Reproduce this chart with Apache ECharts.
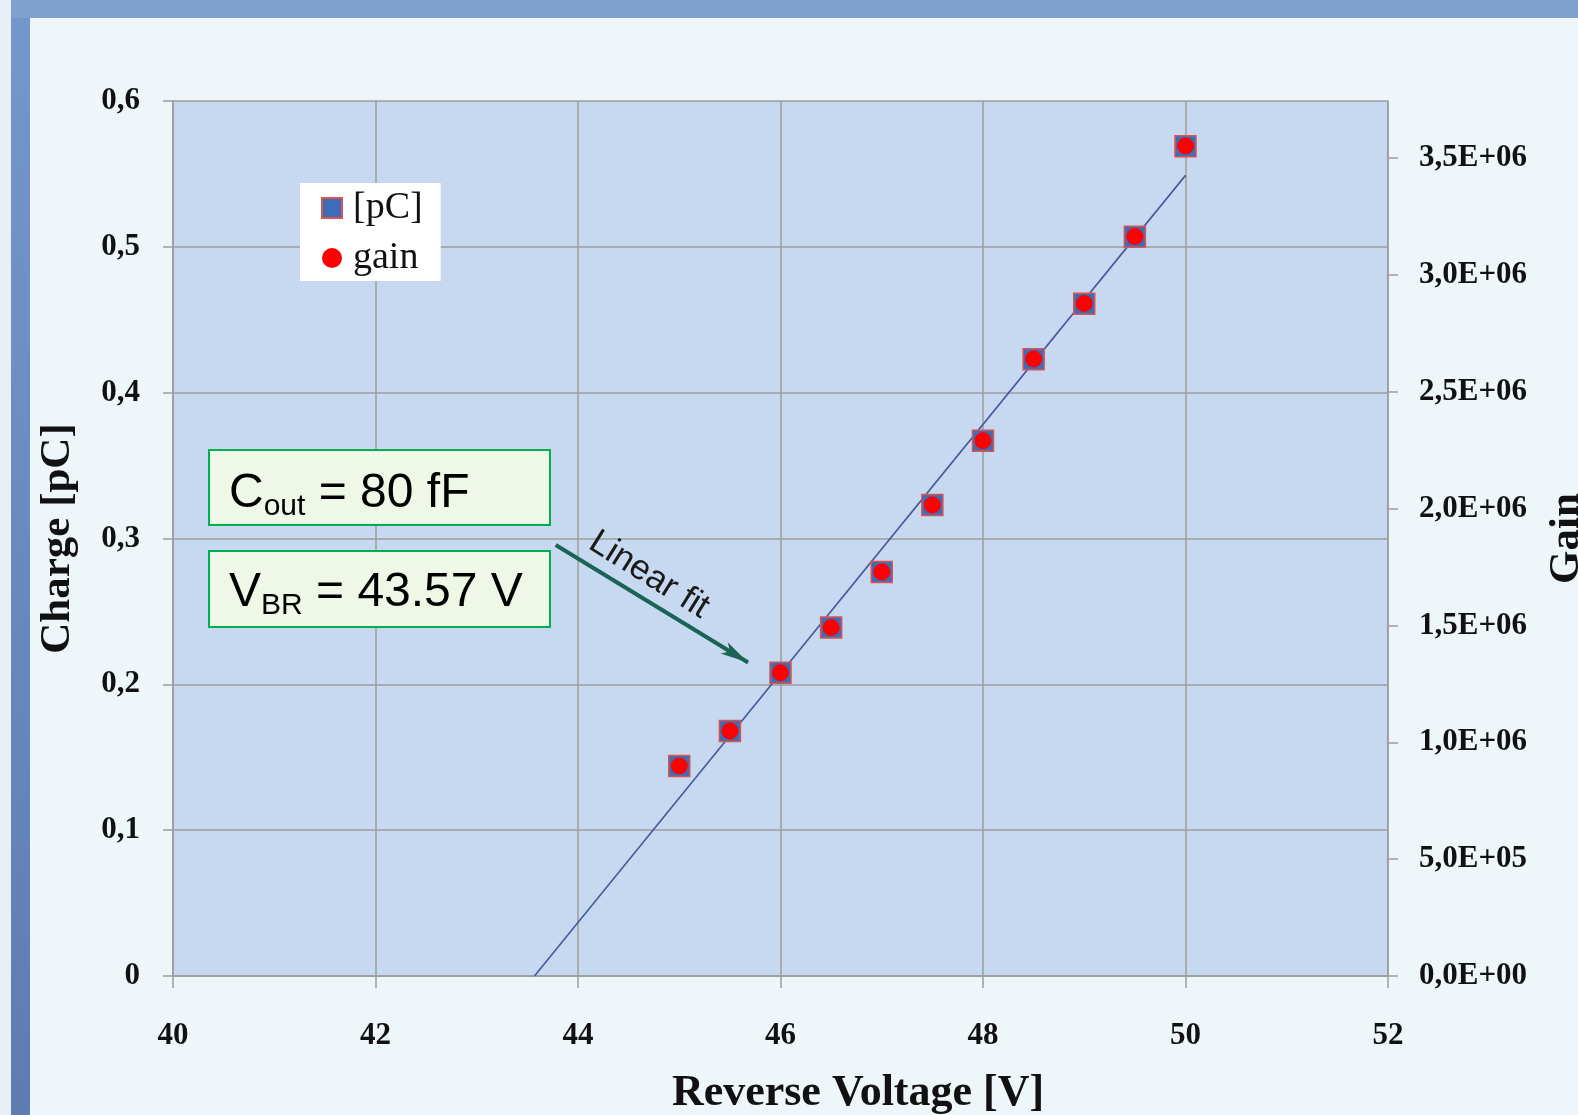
<!DOCTYPE html>
<html>
<head>
<meta charset="utf-8">
<script src="https://cdn.jsdelivr.net/npm/echarts@6/dist/echarts.min.js"></script>
<style>
  html, body { margin: 0; padding: 0; background: #EEF6F9; }
  #chart { width: 1578px; height: 1115px; }
</style>
</head>
<body>
<div id="chart"></div>
<script>
// ---- data ----
const voltage = [45, 45.5, 46, 46.5, 47, 47.5, 48, 48.5, 49, 49.5, 50];
const chargePC = [0.144, 0.168, 0.208, 0.239, 0.277, 0.323, 0.367, 0.423, 0.461, 0.507, 0.569];
const gainValues = [0.899e6, 1.049e6, 1.298e6, 1.492e6, 1.729e6, 2.016e6, 2.291e6, 2.641e6, 2.878e6, 3.165e6, 3.552e6];
const fitVoltage = [43.57, 50];
const fitCharge = [0, 0.549];
const xTicks = [40, 42, 44, 46, 48, 50, 52];
const chargeTicks = [0, 0.1, 0.2, 0.3, 0.4, 0.5, 0.6];
const gainTicks = [0, 5e5, 1e6, 1.5e6, 2e6, 2.5e6, 3e6, 3.5e6];
const gainAxisMax = 3.745e6;
const seriesNames = ['[pC]', 'gain'];
const arrowFrom = [43.78, 0.2955];
const arrowTo = [45.68, 0.2150];

const serif = "'Liberation Serif', 'DejaVu Serif', serif";
const sans = "'Liberation Sans', Arial, sans-serif";

function fmtCharge(v) {
  if (v === 0) return '0';
  return v.toFixed(1).replace('.', ',');
}
function fmtGain(v) {
  if (v === 0) return '0,0E+00';
  const e = Math.floor(Math.log10(v) + 1e-9);
  const m = v / Math.pow(10, e);
  return m.toFixed(1).replace('.', ',') + 'E+' + String(e).padStart(2, '0');
}

const chart = echarts.init(document.getElementById('chart'), null, { renderer: 'canvas' });

const gridColor = '#9C9C9C';
const tickFont = { fontFamily: serif, fontWeight: 'bold', fontSize: 31, color: '#111' };

const option = {
  animation: false,
  backgroundColor: '#EEF6F9',
  grid: {
    left: 173, top: 101, width: 1215, height: 875,
    outerBoundsMode: 'none', containLabel: false,
    show: true, backgroundColor: '#C6D9F0', borderWidth: 0
  },
  legend: {
    data: seriesNames,
    orient: 'vertical',
    left: 300, top: 183,
    padding: [5, 18, 3, 21],
    itemGap: 10,
    itemWidth: 20, itemHeight: 20,
    backgroundColor: '#FFFFFF',
    selectedMode: false,
    textStyle: { fontFamily: serif, fontSize: 38, lineHeight: 40, color: '#111', padding: [0, 0, 0, 6] }
  },
  xAxis: {
    type: 'value', min: xTicks[0], max: xTicks[xTicks.length - 1], interval: 2,
    name: 'Reverse Voltage [V]', nameLocation: 'middle', nameGap: 96,
    nameTextStyle: { fontFamily: serif, fontWeight: 'bold', fontSize: 44, color: '#111', padding: [0, 0, 0, 155] },
    axisLine: { show: true, onZero: false, lineStyle: { color: gridColor, width: 1.5 } },
    axisTick: { show: true, inside: false, length: 12, lineStyle: { color: gridColor, width: 1.5 } },
    axisLabel: Object.assign({ margin: 44 }, tickFont),
    splitLine: { show: true, lineStyle: { color: gridColor, width: 1.5 } }
  },
  yAxis: [
    {
      type: 'value', min: chargeTicks[0], max: chargeTicks[chargeTicks.length - 1], interval: 0.1,
      position: 'left',
      name: 'Charge [pC]', nameLocation: 'middle', nameGap: 94,
      nameTextStyle: { fontFamily: serif, fontWeight: 'bold', fontSize: 43, color: '#111' },
      axisLine: { show: true, lineStyle: { color: gridColor, width: 1.5 } },
      axisTick: { show: true, inside: false, length: 10, lineStyle: { color: gridColor, width: 1.5 } },
      axisLabel: Object.assign({ margin: 33, formatter: fmtCharge }, tickFont),
      splitLine: { show: true, lineStyle: { color: gridColor, width: 1.5 } }
    },
    {
      type: 'value', min: 0, max: gainAxisMax,
      position: 'right',
      name: 'Gain', nameLocation: 'middle', nameGap: 157,
      nameTextStyle: { fontFamily: serif, fontWeight: 'bold', fontSize: 43, color: '#111' },
      axisLine: { show: true, lineStyle: { color: gridColor, width: 1.5 } },
      axisTick: { show: true, inside: false, length: 10, customValues: gainTicks, lineStyle: { color: gridColor, width: 1.5 } },
      axisLabel: Object.assign({ margin: 31, customValues: gainTicks, formatter: fmtGain }, tickFont),
      splitLine: { show: false }
    }
  ],
  series: [
    {
      name: 'fit', type: 'line', yAxisIndex: 0, z: 2, silent: true,
      symbol: 'none',
      data: fitVoltage.map((v, i) => [v, fitCharge[i]]),
      lineStyle: { color: '#47599B', width: 1.6 },
      markLine: {
        silent: true,
        symbol: ['none', 'arrow'],
        symbolSize: [10, 28],
        label: { show: false },
        lineStyle: { color: '#1B6354', width: 4, type: 'solid' },
        emphasis: { disabled: true },
        data: [[{ coord: arrowFrom }, { coord: arrowTo }]]
      }
    },
    {
      name: seriesNames[0], type: 'scatter', yAxisIndex: 0, z: 3,
      symbol: 'rect', symbolSize: 21,
      itemStyle: { color: '#3D6DB8', borderColor: '#D9544F', borderWidth: 1.5, opacity: 1 },
      data: voltage.map((v, i) => [v, chargePC[i]])
    },
    {
      name: seriesNames[1], type: 'scatter', yAxisIndex: 1, z: 4,
      symbol: 'circle', symbolSize: 17,
      itemStyle: { color: '#FF0000', opacity: 1 },
      data: voltage.map((v, i) => [v, gainValues[i]])
    }
  ],
  graphic: [
    // slide chrome
    { type: 'rect', z: -10, silent: true, shape: { x: 0, y: 0, width: 11, height: 1115 }, style: { fill: '#E9EFF7' } },
    { type: 'rect', z: -10, silent: true, shape: { x: 11, y: 0, width: 19, height: 1115 },
      style: { fill: new echarts.graphic.LinearGradient(0, 0, 0, 1, [{ offset: 0, color: '#7498CB' }, { offset: 1, color: '#5F7CB0' }]) } },
    { type: 'rect', z: -10, silent: true, shape: { x: 11, y: 0, width: 1567, height: 18 }, style: { fill: '#7FA1CF' } },
    // annotation boxes
    { type: 'rect', z: 10, silent: true, shape: { x: 209, y: 450, width: 341, height: 75 },
      style: { fill: '#EFF7E7', stroke: '#00B050', lineWidth: 2 } },
    { type: 'rect', z: 10, silent: true, shape: { x: 209, y: 551, width: 341, height: 76 },
      style: { fill: '#EFF7E7', stroke: '#00B050', lineWidth: 2 } },
    { type: 'text', z: 11, silent: true, x: 229, y: 466,
      style: {
        text: '{m|C}{s|out}{m| = 80 fF}',
        textVerticalAlign: 'top',
        rich: {
          m: { fontFamily: sans, fontSize: 48, lineHeight: 56, color: '#262626', verticalAlign: 'middle' },
          s: { fontFamily: sans, fontSize: 30, lineHeight: 26, color: '#262626', verticalAlign: 'bottom' }
        }
      } },
    { type: 'text', z: 11, silent: true, x: 229, y: 565,
      style: {
        text: '{m|V}{s|BR}{m| = 43.57 V}',
        textVerticalAlign: 'top',
        rich: {
          m: { fontFamily: sans, fontSize: 48, lineHeight: 56, color: '#262626', verticalAlign: 'middle' },
          s: { fontFamily: sans, fontSize: 30, lineHeight: 22, color: '#262626', verticalAlign: 'bottom' }
        }
      } },
    { type: 'text', z: 11, silent: true, x: 649, y: 575, rotation: -32 * Math.PI / 180,
      style: { text: 'Linear fit', fontFamily: sans, fontSize: 35, fill: '#1A1A1A', align: 'center', verticalAlign: 'middle' } }
  ]
};

chart.setOption(option);
</script>
</body>
</html>
